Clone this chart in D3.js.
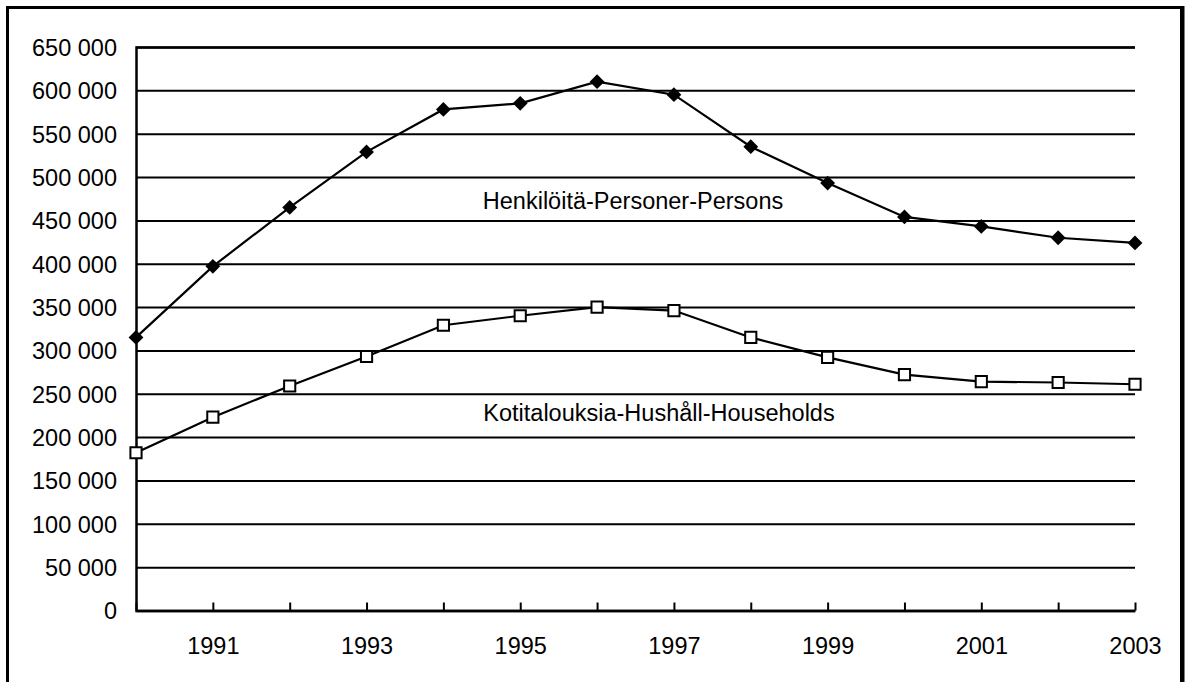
<!DOCTYPE html>
<html>
<head>
<meta charset="utf-8">
<script src="https://cdn.jsdelivr.net/npm/d3@7"></script>
<style>
  body { margin: 0; background: #fff; }
  svg text { font-family: "Liberation Sans", Arial, sans-serif; fill: #000; }
</style>
</head>
<body>
<div id="chart"></div>
<script>
// data
const years = [1990, 1991, 1992, 1993, 1994, 1995, 1996, 1997, 1998, 1999, 2000, 2001, 2002, 2003];
const persons = [315000, 397000, 465000, 529000, 578000, 585000, 610000, 595000, 535000, 493000, 454000, 443000, 430000, 424000];
const households = [182000, 223000, 259000, 293000, 329000, 340000, 350000, 346000, 315000, 292000, 272000, 264000, 263000, 261000];
const yTicks = [0, 50000, 100000, 150000, 200000, 250000, 300000, 350000, 400000, 450000, 500000, 550000, 600000, 650000];
const personsLabel = "Henkilöitä-Personer-Persons";
const householdsLabel = "Kotitalouksia-Hushåll-Households";

const WIDTH = 1186;
const HEIGHT = 682;
const LEFT = 136;
const RIGHT = 1135;
const TOP = 47;
const BOTTOM = 610.5;
const FONT = "23.5px";

const svg = d3
  .select("#chart")
  .append("svg")
  .attr("width", WIDTH)
  .attr("height", HEIGHT);

// outer frame
svg
  .append("rect")
  .attr("x", 7.5)
  .attr("y", 7.5)
  .attr("width", 1174)
  .attr("height", 700)
  .attr("fill", "none")
  .attr("stroke", "#000")
  .attr("stroke-width", 3);
svg
  .append("line")
  .attr("x1", 1182.5)
  .attr("x2", 1182.5)
  .attr("y1", 6)
  .attr("y2", HEIGHT)
  .attr("stroke", "#000")
  .attr("stroke-width", 4);

const x = d3.scaleLinear().domain([1990, 2003]).range([LEFT, RIGHT]);
const y = d3.scaleLinear().domain([0, 650000]).range([BOTTOM, TOP]);

const fmt = (d) => d3.format(",")(d).replace(/,/g, " ");

// y axis with gridlines
const yAxis = svg
  .append("g")
  .attr("transform", `translate(${LEFT},0)`)
  .call(
    d3.axisLeft(y)
      .tickValues(yTicks)
      .tickSize(-(RIGHT - LEFT))
      .tickPadding(19)
      .tickFormat(fmt)
  );
yAxis.select(".domain").attr("stroke", "#000").attr("stroke-width", 2.5);
yAxis.selectAll(".tick line").attr("stroke", "#000").attr("stroke-width", 2);
yAxis.selectAll("text").attr("font-size", FONT).attr("dy", "0.36em");

// x axis, ticks point inward
const xAxis = svg
  .append("g")
  .attr("transform", `translate(0,${BOTTOM})`)
  .call(
    d3.axisBottom(x)
      .tickValues(years)
      .tickSize(-8)
      .tickSizeOuter(0)
      .tickPadding(27)
      .tickFormat((d) => (d % 2 === 1 ? d : ""))
  );
xAxis.select(".domain").attr("stroke", "#000").attr("stroke-width", 2.5);
xAxis.selectAll(".tick line").attr("stroke", "#000").attr("stroke-width", 2);
xAxis.selectAll("text").attr("font-size", FONT).attr("dy", "0.71em");

const line = d3
  .line()
  .x((d, i) => x(years[i]))
  .y((d) => y(d));

// Persons series
svg
  .append("path")
  .datum(persons)
  .attr("d", line)
  .attr("fill", "none")
  .attr("stroke", "#000")
  .attr("stroke-width", 2.2);

svg
  .selectAll(".diamond")
  .data(persons)
  .enter()
  .append("path")
  .attr("class", "diamond")
  .attr("d", d3.symbol(d3.symbolSquare, 110)())
  .attr("transform", (d, i) => `translate(${x(years[i])},${y(d)}) rotate(45)`)
  .attr("fill", "#000");

// Households series
svg
  .append("path")
  .datum(households)
  .attr("d", line)
  .attr("fill", "none")
  .attr("stroke", "#000")
  .attr("stroke-width", 2.2);

svg
  .selectAll(".square")
  .data(households)
  .enter()
  .append("path")
  .attr("class", "square")
  .attr("d", d3.symbol(d3.symbolSquare, 125)())
  .attr("transform", (d, i) => `translate(${x(years[i])},${y(d)})`)
  .attr("fill", "#fff")
  .attr("stroke", "#000")
  .attr("stroke-width", 2);

// series labels
svg
  .append("text")
  .attr("x", 633)
  .attr("y", 201)
  .attr("dy", "0.36em")
  .attr("text-anchor", "middle")
  .attr("font-size", FONT)
  .text(personsLabel);

svg
  .append("text")
  .attr("x", 659)
  .attr("y", 413)
  .attr("dy", "0.36em")
  .attr("text-anchor", "middle")
  .attr("font-size", FONT)
  .text(householdsLabel);
</script>
</body>
</html>
